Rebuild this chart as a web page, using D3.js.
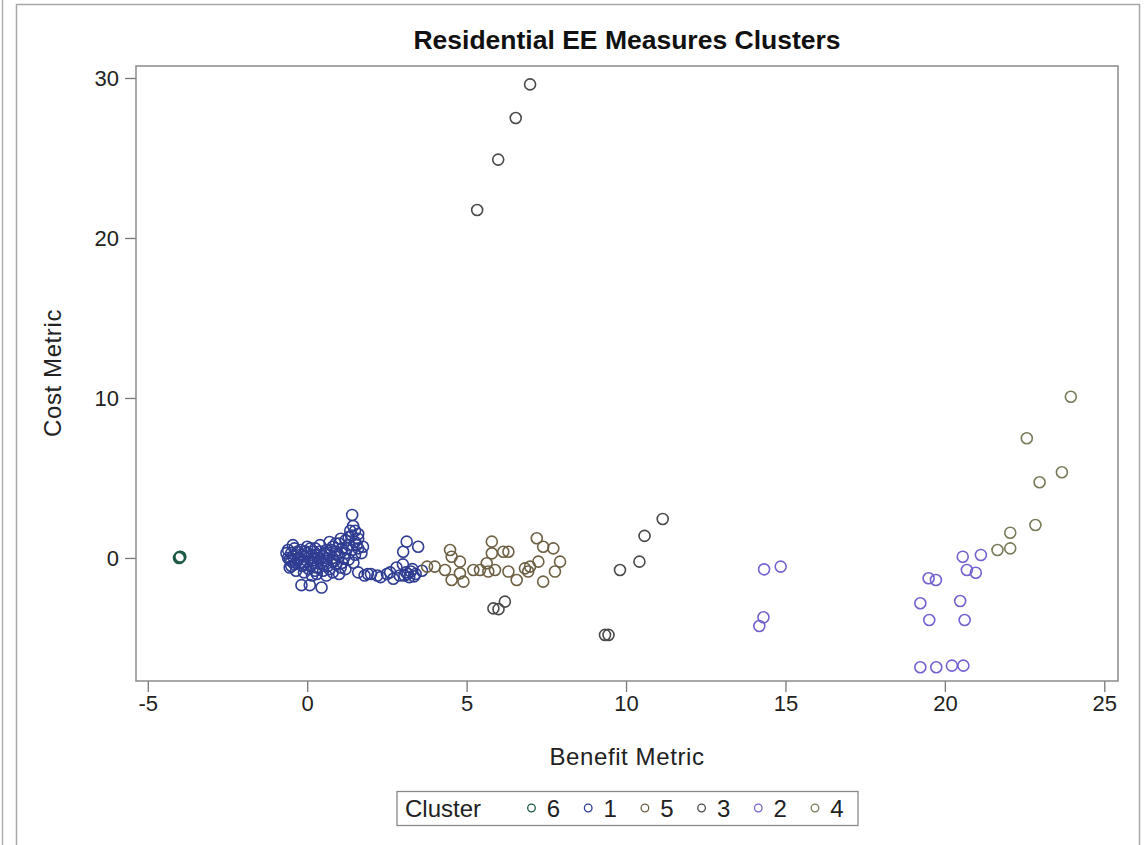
<!DOCTYPE html>
<html><head><meta charset="utf-8">
<script src="https://cdn.jsdelivr.net/npm/d3@7"></script>
<style>body{margin:0;background:#fff}svg{display:block;font-family:"Liberation Sans",Arial,sans-serif}</style>
</head><body><svg id="c" width="1146" height="845"></svg>
<script>
const title = "Residential EE Measures Clusters";
const xLabel = "Benefit Metric";
const yLabel = "Cost Metric";
const xTicks = [-5, 0, 5, 10, 15, 20, 25];
const yTicks = [0, 10, 20, 30];
const legendOrder = ["6", "1", "5", "3", "2", "4"];
const clusterColors = {"6":"#1d5a44","1":"#2f3d92","5":"#6d6044","3":"#4a4a4a","2":"#7263d0","4":"#7a7a5c"};

const cluster6 = [[-4.0,0.05],[-4.02,0.0],[-3.98,0.08]];
const cluster1 = [[-0.6,0.5],[-0.5,0.3],[-0.4,0.6],[-0.3,0.4],[-0.2,0.2],[-0.6,0.0],[-0.5,-0.2],[-0.4,-0.4],[-0.3,-0.1],[-0.2,-0.3],
 [-0.1,0.1],[0.0,0.3],[0.0,-0.2],[0.1,0.6],[0.1,-0.5],[0.2,0.0],[0.2,-0.3],[0.3,0.2],[0.3,-0.6],[0.4,-0.1],
 [0.4,0.4],[0.5,0.1],[0.5,-0.4],[0.6,0.5],[0.6,-0.2],[0.7,0.2],[0.7,-0.7],[0.8,0.7],[0.8,0.0],[0.9,-0.4],
 [0.9,0.4],[1.0,0.9],[1.0,0.1],[1.1,-0.3],[1.1,0.6],[1.2,1.1],[1.2,0.3],[1.3,0.8],[1.3,-0.1],[1.4,1.4],
 [1.4,0.5],[1.5,1.0],[1.5,0.2],[1.6,1.2],[1.6,0.6],[1.7,0.3],[1.41,2.69],[1.44,2.0],[1.35,1.7],[1.6,1.5],
 [1.75,0.7],[-0.18,-1.7],[0.08,-1.7],[0.45,-1.85],[-0.5,-0.5],[0.3,-1.0],[0.6,-1.1],[1.0,-1.0],[-0.2,0.5],[0.2,0.4],
 [-0.65,0.3],[-0.55,-0.1],[-0.45,0.1],[-0.35,-0.3],[-0.25,0.0],[-0.15,-0.5],[-0.05,0.4],[0.05,-0.7],[0.15,0.2],[0.25,-0.8],
 [0.35,0.0],[0.45,-0.3],[0.55,0.3],[0.65,-0.5],[0.75,0.5],[0.85,-0.2],[0.95,0.2],[1.05,-0.6],[1.15,0.0],[1.25,0.6],
 [-0.55,-0.6],[-0.35,-0.8],[-0.1,-0.9],[0.15,-1.1],[0.5,-0.8],[0.8,-0.9],[1.2,-0.7],[-0.45,0.8],[0.0,0.7],[0.4,0.8],
 [0.7,1.0],[1.05,1.2],[1.3,1.3],[1.5,1.7],[1.55,0.8],[1.45,-0.3],[0.9,0.9],[0.25,0.6],[-0.1,-0.4],[0.6,0.0],
 [1.6,-0.9],[1.9,-1.0],[2.2,-1.1],[2.5,-1.0],[2.7,-1.3],[2.9,-1.1],[3.1,-0.9],[3.2,-1.2],[3.4,-1.0],[3.6,-0.8],
 [2.8,-0.6],[3.0,-0.4],[2.6,-0.9],[3.3,-0.7],[3.12,1.02],[3.01,0.39],[3.48,0.7],[2.3,-1.2],[1.8,-1.1],[2.0,-1.0],
 [3.15,-1.0],[3.25,-0.85],[3.05,-1.1],[3.35,-1.15]];
const cluster5 = [[3.76,-0.54],[4.0,-0.54],[4.32,-0.75],[4.48,0.5],[4.53,0.08],[4.53,-1.38],[4.79,-0.23],[4.79,-0.96],[4.9,-1.48],[5.21,-0.75],
 [5.42,-0.75],[5.63,-0.33],[5.68,-0.85],[5.79,1.02],[5.79,0.29],[5.89,-0.75],[6.15,0.39],[6.31,0.39],[6.31,-0.85],[6.57,-1.38],
 [6.83,-0.65],[6.99,-0.54],[6.93,-0.85],[7.2,1.23],[7.25,-0.23],[7.4,0.7],[7.4,-1.48],[7.72,0.6],[7.77,-0.85],[7.93,-0.23]];
const cluster3 = [[5.84,-3.15],[6.0,-3.2],[6.2,-2.73],[9.34,-4.81],[9.45,-4.81],
 [9.81,-0.75],[10.42,-0.23],[10.58,1.38],[11.15,2.44],
 [5.33,21.75],[5.99,24.9],[6.54,27.5],[6.99,29.6]];
const cluster2 = [[14.18,-4.25],[14.31,-3.71],[14.33,-0.71],[14.85,-0.54],
 [21.13,0.19],[20.56,0.08],[20.69,-0.75],[20.97,-0.92],[19.49,-1.27],[19.72,-1.38],[19.23,-2.83],[20.48,-2.69],
 [19.51,-3.88],[20.62,-3.88],[19.23,-6.83],[19.73,-6.83],[20.22,-6.73],[20.58,-6.73]];
const cluster4 = [[23.95,10.08],[22.57,7.48],[23.67,5.36],[22.97,4.73],[22.84,2.06],[22.05,1.58],[22.05,0.6],[21.65,0.5]];

const series = [
  {key:"6", pts:cluster6},{key:"1", pts:cluster1},{key:"5", pts:cluster5},
  {key:"3", pts:cluster3},{key:"2", pts:cluster2},{key:"4", pts:cluster4}
];

const svg = d3.select("#c");
const L = 136, R = 1118, T = 66, B = 681;
const x = d3.scaleLinear().domain([-5.37, 25.43]).range([L, R]);
const y = d3.scaleLinear().domain([-7.69, 30.75]).range([B, T]);

// outer frames
svg.append("line").attr("x1",2.5).attr("x2",2.5).attr("y1",0).attr("y2",845).attr("stroke","#b0b0b0").attr("stroke-width",1.5);
svg.append("rect").attr("x",16.5).attr("y",4.5).attr("width",1123).attr("height",860)
  .attr("fill","none").attr("stroke","#a8a8a8").attr("stroke-width",1.5);

svg.append("text").attr("x",627).attr("y",49).attr("text-anchor","middle")
  .attr("font-size",26.5).attr("font-weight","bold").attr("fill","#111").text(title);

// axes
const fmt = d => String(d);
const xAxis = d3.axisBottom(x).tickValues(xTicks).tickSize(11).tickPadding(3).tickFormat(fmt);
const yAxis = d3.axisLeft(y).tickValues(yTicks).tickSize(11).tickPadding(6).tickFormat(fmt);
const gx = svg.append("g").attr("transform",`translate(0,${B})`).call(xAxis);
const gy = svg.append("g").attr("transform",`translate(${L},0)`).call(yAxis);
[gx, gy].forEach(g => {
  g.select(".domain").remove();
  g.selectAll(".tick line").attr("stroke","#777").attr("stroke-width",1.3);
  g.selectAll(".tick text").attr("font-size",22).attr("fill","#222").attr("font-family","Liberation Sans, Arial, sans-serif");
});
gy.selectAll(".tick text").attr("dy","0.36em");

svg.append("rect").attr("x",L).attr("y",T).attr("width",R-L).attr("height",B-T)
  .attr("fill","none").attr("stroke","#8a8a8a").attr("stroke-width",1.5);

svg.append("text").attr("x",627).attr("y",765).attr("text-anchor","middle")
  .attr("font-size",24).attr("fill","#222").attr("letter-spacing",0.6).text(xLabel);
svg.append("text").attr("transform","translate(61,373) rotate(-90)").attr("text-anchor","middle")
  .attr("font-size",24).attr("fill","#222").attr("letter-spacing",0.6).text(yLabel);

// points
const plot = svg.append("g");
series.forEach(s => {
  plot.append("g").selectAll("circle").data(s.pts).join("circle")
    .attr("cx", d => x(d[0])).attr("cy", d => y(d[1])).attr("r", 5.5)
    .attr("fill","none").attr("stroke", clusterColors[s.key]).attr("stroke-width",1.6);
});

// legend
const lg = svg.append("g");
lg.append("rect").attr("x",397).attr("y",791.5).attr("width",461).attr("height",34)
  .attr("fill","#fff").attr("stroke","#8a8a8a").attr("stroke-width",1.3);
lg.append("text").attr("x",405).attr("y",817).attr("font-size",24).attr("fill","#222").text("Cluster");
const lx = d3.scalePoint().domain(legendOrder).range([531.5, 815]);
legendOrder.forEach(k => {
  lg.append("circle").attr("cx",lx(k)).attr("cy",808).attr("r",3.8).attr("fill","none")
    .attr("stroke", clusterColors[k]).attr("stroke-width",1.3);
  lg.append("text").attr("x",lx(k)+22).attr("y",817).attr("text-anchor","middle")
    .attr("font-size",24).attr("fill","#222").text(k);
});
</script></body></html>
